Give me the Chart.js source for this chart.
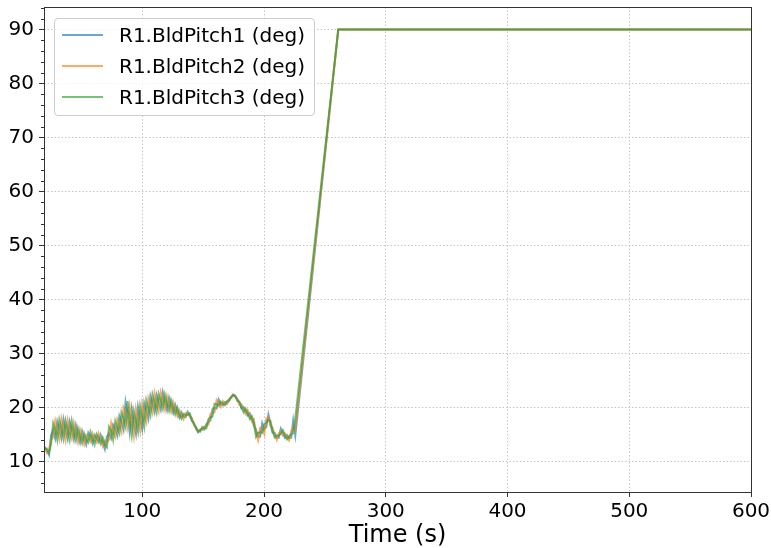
<!DOCTYPE html>
<html>
<head>
<meta charset="utf-8">
<script src="https://cdn.jsdelivr.net/npm/chart.js@4.4.1/dist/chart.umd.min.js"></script>
<style>
    html, body { margin: 0; padding: 0; background: #fff; }
    #wrap { position: relative; width: 771px; height: 548px; }
    #legend {
        position: absolute; left: 54px; top: 18px; width: 259px; height: 96px;
        border: 1px solid #cccccc; border-radius: 4px; background: rgba(255, 255, 255, 0.8);
        font-family: 'DejaVu Sans', sans-serif; font-size: 20px; color: #000;
    }
    .item { position: absolute; left: 0; height: 31px; display: flex; align-items: center; white-space: nowrap; }
    .swatch { width: 41px; height: 0; border-top: 2px solid; margin-left: 7px; margin-right: 16px; }
</style>
</head>
<body>
<div id="wrap">
    <canvas id="chart" width="771" height="548"></canvas>
    <div id="legend"></div>
</div>
<script>
// simulation time (s)
const time = [19.3, 21.7, 23.4, 25.1, 26.8, 28.5, 30.2, 31.9, 33.6, 35.3, 37.0, 38.7, 40.4, 42.1, 43.8, 45.5, 47.2, 48.9, 50.6, 52.3,
    54.0, 55.7, 57.4, 59.1, 60.8, 62.5, 64.2, 65.9, 67.6, 69.3, 71.0, 72.7, 74.4, 76.1, 77.8, 79.5, 81.2, 82.9, 84.6, 86.3,
    88.0, 89.7, 91.4, 93.1, 94.8, 96.5, 98.2, 99.9, 101.6, 103.3, 105.0, 106.7, 108.4, 110.1, 111.8, 113.5, 115.2, 116.9, 118.6, 120.3,
    122.0, 123.7, 125.4, 127.1, 128.8, 130.5, 132.2, 133.9, 135.6, 137.3, 139.0, 140.7, 142.4, 144.1, 145.8, 147.5, 149.2, 150.9, 152.6, 154.3,
    156.0, 157.7, 159.4, 161.1, 162.8, 164.5, 166.2, 167.9, 169.6, 171.3, 173.0, 174.7, 176.4, 178.1, 179.8, 181.5, 183.2, 184.9, 186.6, 188.3,
    190.0, 191.7, 193.4, 195.1, 196.8, 198.5, 200.2, 201.9, 203.6, 205.3, 207.0, 208.7, 210.4, 212.1, 213.8, 215.5, 217.2, 218.9, 220.6, 222.3,
    224.0, 225.7, 261.0, 600.0];

const pitch1 = [12.9, 12.0, 11.2, 14.8, 15.8, 14.3, 17.4, 15.9, 14.3, 17.8,
    15.8, 14.2, 17.4, 15.9, 14.1, 16.7, 14.9, 13.5, 15.6, 14.2,
    13.1, 15.3, 14.6, 13.4, 14.9, 14.3, 13.6, 14.9, 13.6, 12.3,
    14.6, 15.2, 14.3, 16.8, 16.0, 14.8, 18.4, 17.3, 15.9, 21.0,
    18.8, 15.4, 19.7, 17.0, 15.1, 20.1, 18.0, 16.0, 20.8, 19.3,
    17.9, 22.1, 20.7, 19.2, 22.3, 20.9, 19.6, 22.8, 21.0, 19.5,
    21.8, 20.3, 19.0, 20.5, 19.2, 18.1, 19.1, 18.3, 18.2, 19.2,
    18.6, 17.5, 17.2, 16.2, 15.4, 15.9, 16.1, 15.9, 16.9, 17.3,
    17.6, 19.7, 19.9, 19.8, 21.5, 20.6, 20.4, 21.0, 20.9, 21.2,
    22.0, 22.3, 22.0, 21.6, 20.8, 19.8, 20.1, 19.3, 18.5, 18.9,
    17.9, 16.6, 16.0, 14.6, 14.6, 17.1, 16.0, 16.4, 18.7, 17.0,
    15.3, 15.3, 14.4, 14.4, 16.1, 15.3, 14.4, 14.9, 14.3, 14.4,
    17.6, 14.8, 90, 90];

const pitch2 = [12.6, 11.6, 12.0, 14.0, 14.5, 17.5, 15.7, 14.1, 17.9, 16.0,
    14.0, 17.6, 15.7, 14.3, 17.1, 15.3, 13.6, 15.9, 14.5, 13.2,
    14.9, 14.4, 13.7, 15.2, 14.0, 13.5, 15.2, 14.1, 12.8, 13.9,
    13.6, 14.0, 17.1, 15.4, 14.5, 17.8, 16.8, 15.5, 19.9, 18.7,
    16.4, 20.2, 17.3, 14.7, 19.7, 17.8, 15.7, 20.6, 18.6, 17.3,
    21.7, 20.3, 19.0, 22.6, 20.7, 19.3, 22.8, 21.3, 19.6, 22.1,
    20.6, 19.2, 21.0, 19.6, 18.4, 19.5, 18.5, 17.8, 19.0, 18.9,
    18.3, 18.1, 17.0, 16.0, 15.8, 15.7, 15.8, 16.5, 16.5, 16.8,
    18.8, 19.0, 19.1, 21.4, 20.9, 20.1, 21.2, 20.7, 20.6, 21.6,
    21.9, 22.2, 22.2, 21.4, 20.5, 20.6, 19.6, 18.8, 19.5, 18.4,
    17.4, 17.8, 15.3, 13.9, 16.2, 16.2, 15.1, 18.0, 18.2, 16.5,
    16.3, 14.9, 14.0, 15.2, 15.6, 14.8, 15.2, 14.5, 13.9, 15.6,
    16.4, 16.0, 90, 90];

const pitch3 = [12.3, 12.4, 11.6, 13.2, 17.1, 15.9, 14.0, 17.7, 16.1, 14.2,
    17.6, 15.9, 14.0, 17.5, 15.6, 13.9, 16.2, 14.7, 13.4, 15.2,
    14.0, 13.5, 15.5, 14.3, 13.1, 15.1, 14.4, 13.3, 14.4, 13.1,
    12.6, 16.4, 15.7, 14.0, 17.5, 16.3, 15.2, 19.1, 17.9, 16.4,
    21.2, 17.8, 14.9, 19.3, 17.4, 15.5, 20.3, 18.3, 16.4, 21.3,
    19.8, 18.5, 22.4, 20.9, 19.1, 22.5, 21.2, 19.8, 22.4, 20.8,
    19.4, 21.4, 20.0, 18.7, 20.0, 18.8, 17.9, 18.8, 18.6, 18.6,
    18.9, 17.8, 16.8, 16.4, 15.6, 15.5, 16.4, 16.2, 16.1, 17.8,
    18.2, 18.3, 20.7, 20.6, 20.3, 21.1, 20.8, 20.4, 21.2, 21.4,
    21.8, 22.4, 22.1, 21.2, 21.1, 20.2, 19.1, 19.8, 19.0, 17.9,
    18.4, 17.2, 14.6, 15.3, 15.4, 15.3, 16.9, 17.2, 17.7, 17.5,
    15.8, 14.5, 14.8, 14.8, 15.1, 15.8, 14.8, 14.1, 14.7, 15.0,
    15.2, 18.0, 90, 90];

const seriesNames = ['R1.BldPitch1 (deg)', 'R1.BldPitch2 (deg)', 'R1.BldPitch3 (deg)'];
const seriesColors = ['rgba(31,119,180,0.65)', 'rgba(255,127,14,0.65)', 'rgba(44,160,44,0.65)'];
const xTicks = [100, 200, 300, 400, 500, 600];
const yTicks = [10, 20, 30, 40, 50, 60, 70, 80, 90];
const yMinorTicks = [6, 8, 12, 14, 16, 18, 22, 24, 26, 28, 32, 34, 36, 38, 42, 44, 46, 48,
    52, 54, 56, 58, 62, 64, 66, 68, 72, 74, 76, 78, 82, 84, 86, 88, 92, 94];

const FONT = "'DejaVu Sans', sans-serif";

function toPoints(values) {
    return values.map((v, i) => ({ x: time[i], y: v }));
}

// later series drawn on top, as in the original plot
const datasets = [pitch1, pitch2, pitch3].map((vals, k) => ({
    label: seriesNames[k],
    data: toPoints(vals),
    borderColor: seriesColors[k],
    borderWidth: 2,
    pointRadius: 0,
    tension: 0,
    fill: false,
    order: 3 - k
}));

// matplotlib-like frame and minor ticks
const framePlugin = {
    id: 'frame',
    afterDatasetsDraw(chart) {
        const { ctx, chartArea: a } = chart;
        const y = chart.scales.y;
        ctx.save();
        ctx.strokeStyle = '#333';
        ctx.lineWidth = 1;
        ctx.beginPath();
        yMinorTicks.forEach((v) => {
            const py = Math.round(y.getPixelForValue(v)) + 0.5;
            ctx.moveTo(a.left - 3, py);
            ctx.lineTo(a.left, py);
        });
        ctx.stroke();
        ctx.strokeRect(Math.round(a.left) + 0.5, Math.round(a.top) + 0.5,
            Math.round(a.right - a.left), Math.round(a.bottom - a.top));
        ctx.restore();
    }
};

const gridOpts = {
    color: '#b8b8b8',
    lineWidth: 0.8,
    drawTicks: true,
    tickLength: 5,
    tickColor: '#333',
    tickWidth: 1,
    tickBorderDash: []
};
const borderOpts = { display: false, dash: [1.5, 2] };

const chart = new Chart(document.getElementById('chart'), {
    type: 'line',
    data: { datasets },
    options: {
        responsive: false,
        animation: false,
        layout: { padding: { left: 0, right: 20, top: 7, bottom: 0 } },
        plugins: { legend: { display: false }, tooltip: { enabled: false } },
        scales: {
            x: {
                type: 'linear',
                min: 19.3,
                max: 600,
                afterBuildTicks: (s) => { s.ticks = xTicks.map((v) => ({ value: v })); },
                afterFit: (s) => { s.height = 56; s.paddingLeft = 0; s.paddingRight = 0; },
                border: borderOpts,
                grid: gridOpts,
                ticks: { autoSkip: false, maxRotation: 0, padding: 3, color: '#000', font: { family: FONT, size: 20 } },
                title: { display: true, text: 'Time (s)', color: '#000', padding: 0, font: { family: FONT, size: 24, lineHeight: 1.0 } }
            },
            y: {
                min: 4.35,
                max: 94.15,
                afterBuildTicks: (s) => { s.ticks = yTicks.map((v) => ({ value: v })); },
                afterFit: (s) => { s.width = 44; s.paddingTop = 0; s.paddingBottom = 0; },
                border: borderOpts,
                grid: gridOpts,
                ticks: { autoSkip: false, padding: 5, color: '#000', font: { family: FONT, size: 20 } }
            }
        }
    },
    plugins: [framePlugin]
});

// legend box inside the axes, upper left
const legend = document.getElementById('legend');
chart.data.datasets.forEach((ds, i) => {
    const item = document.createElement('div');
    item.className = 'item';
    item.style.top = (i * 31) + 'px';
    const sw = document.createElement('span');
    sw.className = 'swatch';
    sw.style.borderTopColor = ds.borderColor;
    const txt = document.createElement('span');
    txt.textContent = ds.label;
    item.appendChild(sw);
    item.appendChild(txt);
    legend.appendChild(item);
});
</script>
</body>
</html>
